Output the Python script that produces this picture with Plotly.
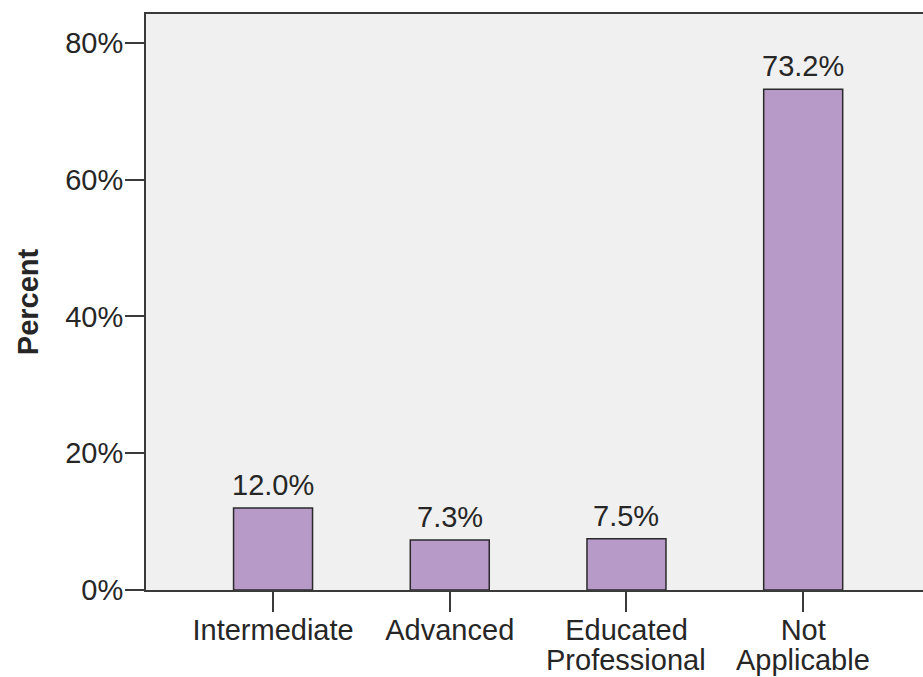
import plotly.graph_objects as go

# Category labels (first line on the axis, second line below it)
categories = ["Intermediate", "Advanced", "Educated Professional", "Not Applicable"]
first_lines = ["Intermediate", "Advanced", "Educated", "Not"]
second_lines = ["", "", "Professional", "Applicable"]
percents = [12.0, 7.3, 7.5, 73.2]
y_ticks = [0, 20, 40, 60, 80]

FONT = "Liberation Sans, Arial, sans-serif"
TEXT_COLOR = "#262626"
AXIS_COLOR = "#3a3a3a"

x_pos = list(range(len(categories)))

fig = go.Figure()
fig.add_trace(go.Bar(
    x=x_pos,
    y=percents,
    width=0.447,
    marker=dict(color="#B89AC8", line=dict(color="#2a2a2a", width=1.5)),
    hoverinfo="skip",
))

# value labels above each bar
for xi, v in zip(x_pos, percents):
    fig.add_annotation(
        x=xi, y=v, xref="x", yref="y",
        text=f"{v:.1f}%", showarrow=False,
        yanchor="bottom", yshift=5,
        font=dict(family=FONT, size=29, color=TEXT_COLOR),
    )

# second line of the two-line category labels
for xi, txt in zip(x_pos, second_lines):
    if txt:
        fig.add_annotation(
            x=xi, y=0, xref="x", yref="paper",
            text=txt, showarrow=False,
            yanchor="top", yshift=-52,
            font=dict(family=FONT, size=29, color=TEXT_COLOR),
        )

fig.update_layout(
    width=923, height=677,
    margin=dict(l=146, r=0, t=14, b=87),
    paper_bgcolor="white",
    plot_bgcolor="#F0F0F0",
    showlegend=False,
    font=dict(family=FONT, size=29, color=TEXT_COLOR),
)

fig.update_xaxes(
    range=[-0.719, 3.678],
    tickmode="array", tickvals=x_pos, ticktext=first_lines,
    ticks="outside", ticklen=20, tickwidth=2, tickcolor=AXIS_COLOR,
    ticklabelstandoff=-7,
    showline=True, linecolor=AXIS_COLOR, linewidth=2, mirror=True,
    showgrid=False, zeroline=False,
    tickfont=dict(family=FONT, size=29, color=TEXT_COLOR),
)
fig.update_yaxes(
    range=[0, 84.2],
    tickmode="array", tickvals=y_ticks, ticktext=[f"{t}%" for t in y_ticks],
    ticks="outside", ticklen=19, tickwidth=2, tickcolor=AXIS_COLOR,
    ticklabelstandoff=-4,
    showline=True, linecolor=AXIS_COLOR, linewidth=2,
    showgrid=False, zeroline=False,
    tickfont=dict(family=FONT, size=29, color=TEXT_COLOR),
    title=dict(text="<b>Percent</b>", font=dict(family=FONT, size=29, color=TEXT_COLOR), standoff=18),
)

fig.write_html("out.html")
